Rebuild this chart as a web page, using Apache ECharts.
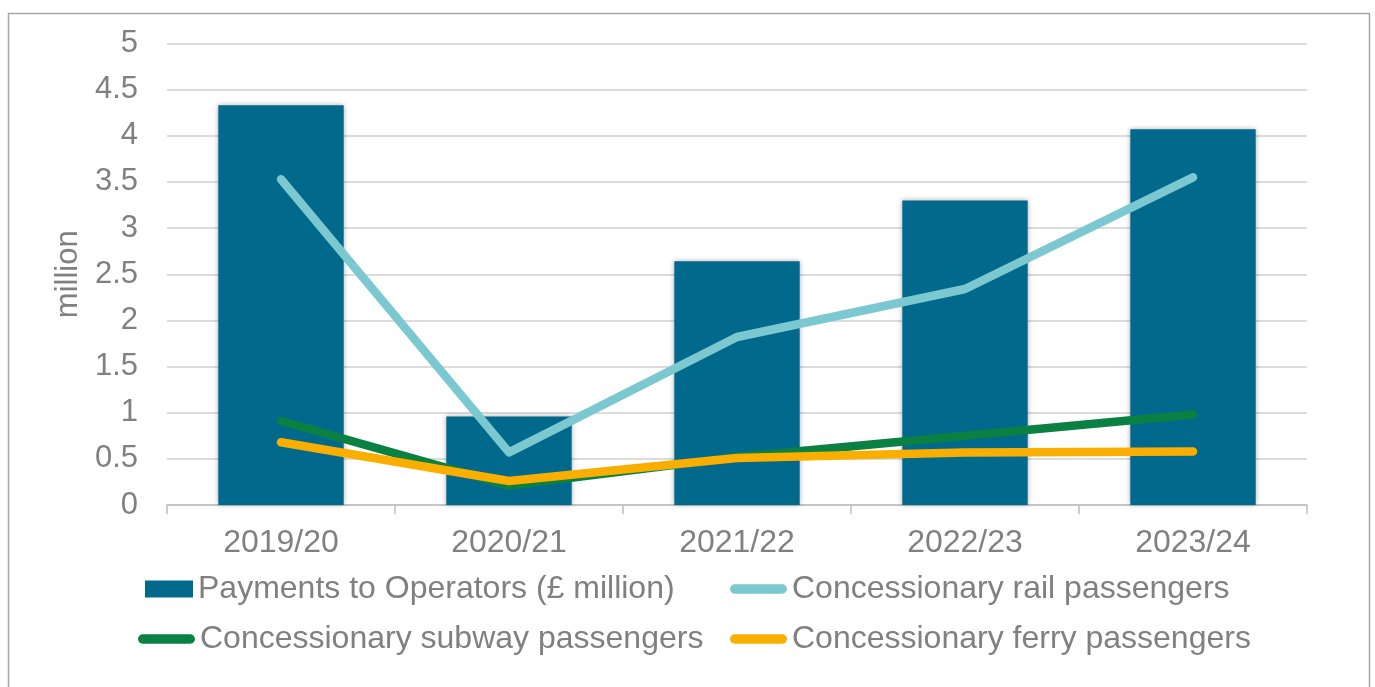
<!DOCTYPE html>
<html>
<head>
<meta charset="utf-8">
<script src="https://cdn.jsdelivr.net/npm/echarts@6/dist/echarts.min.js"></script>
<style>
html,body{margin:0;padding:0;background:#fff;}
#chart{width:1375px;height:687px;}
</style>
</head>
<body>
<div id="chart"></div>
<script>
const categories = ['2019/20', '2020/21', '2021/22', '2022/23', '2023/24'];
const payments = [4.33, 0.96, 2.64, 3.30, 4.07];
const rail = [3.53, 0.57, 1.82, 2.34, 3.55];
const subway = [0.91, 0.21, 0.52, 0.75, 0.98];
const ferry = [0.68, 0.26, 0.51, 0.57, 0.58];
const seriesNames = ['Payments to Operators (£ million)', 'Concessionary rail passengers', 'Concessionary subway passengers', 'Concessionary ferry passengers'];

const FONT = 'Liberation Sans, Arial, sans-serif';
const GREY = '#808080';
const capsule = 'path://M5,0 H55 A5,5 0 0 1 55,10 H5 A5,5 0 0 1 5,0 Z';

function legendAt(name, left, top, icon, w, h) {
  return {
    data: [name], left: left, top: top, icon: icon,
    itemWidth: w, itemHeight: h, padding: 0, itemGap: 0,
    selectedMode: false,
    textStyle: {color: GREY, fontSize: 32, fontFamily: FONT, lineHeight: 30}
  };
}

const chart = echarts.init(document.getElementById('chart'), null, {renderer: 'canvas'});
chart.setOption({
  animation: false,
  backgroundColor: '#fff',
  graphic: [{
    type: 'rect', silent: true, z: -1,
    shape: {x: 8.5, y: 13.5, width: 1361, height: 700},
    style: {fill: 'none', stroke: '#a6a6a6', lineWidth: 1.5}
  }],
  grid: {left: 167, right: 68, top: 43.5, bottom: 182, containLabel: false},
  legend: [
    legendAt(seriesNames[0], 145, 573, 'rect', 48, 17),
    legendAt(seriesNames[1], 730, 573, capsule, 57, 10),
    legendAt(seriesNames[2], 138, 623, capsule, 57, 10),
    legendAt(seriesNames[3], 730, 623, capsule, 57, 10)
  ],
  xAxis: {
    type: 'category', data: categories, boundaryGap: true,
    axisLine: {lineStyle: {color: '#bfbfbf', width: 1.5}},
    axisTick: {show: true, length: 9, alignWithLabel: false, lineStyle: {color: '#bfbfbf', width: 1.5}},
    axisLabel: {color: GREY, fontSize: 32, fontFamily: FONT, margin: 22, lineHeight: 32}
  },
  yAxis: {
    type: 'value', min: 0, max: 5, interval: 0.5,
    name: 'million', nameLocation: 'middle', nameGap: 82, nameRotate: 90,
    nameTextStyle: {color: GREY, fontSize: 31, fontFamily: FONT},
    axisLine: {show: false}, axisTick: {show: false},
    splitLine: {lineStyle: {color: '#d0d0d0', width: 1.5}},
    axisLabel: {color: GREY, fontSize: 31, fontFamily: FONT, margin: 29}
  },
  series: [
    {
      name: seriesNames[0], type: 'bar', data: payments, barWidth: '55%',
      itemStyle: {color: '#016a8c', shadowBlur: 5, shadowColor: 'rgba(0,0,0,0.3)', shadowOffsetX: 0, shadowOffsetY: 0}
    },
    {
      name: seriesNames[1], type: 'line', data: rail, showSymbol: false, symbol: 'none',
      lineStyle: {color: '#7cc8d0', width: 8.5, cap: 'round', join: 'round'}, itemStyle: {color: '#7cc8d0'}
    },
    {
      name: seriesNames[2], type: 'line', data: subway, showSymbol: false, symbol: 'none',
      lineStyle: {color: '#0a8043', width: 8.5, cap: 'round', join: 'round'}, itemStyle: {color: '#0a8043'}
    },
    {
      name: seriesNames[3], type: 'line', data: ferry, showSymbol: false, symbol: 'none',
      lineStyle: {color: '#f9ae00', width: 8.5, cap: 'round', join: 'round'}, itemStyle: {color: '#f9ae00'}
    }
  ]
});
</script>
</body>
</html>
